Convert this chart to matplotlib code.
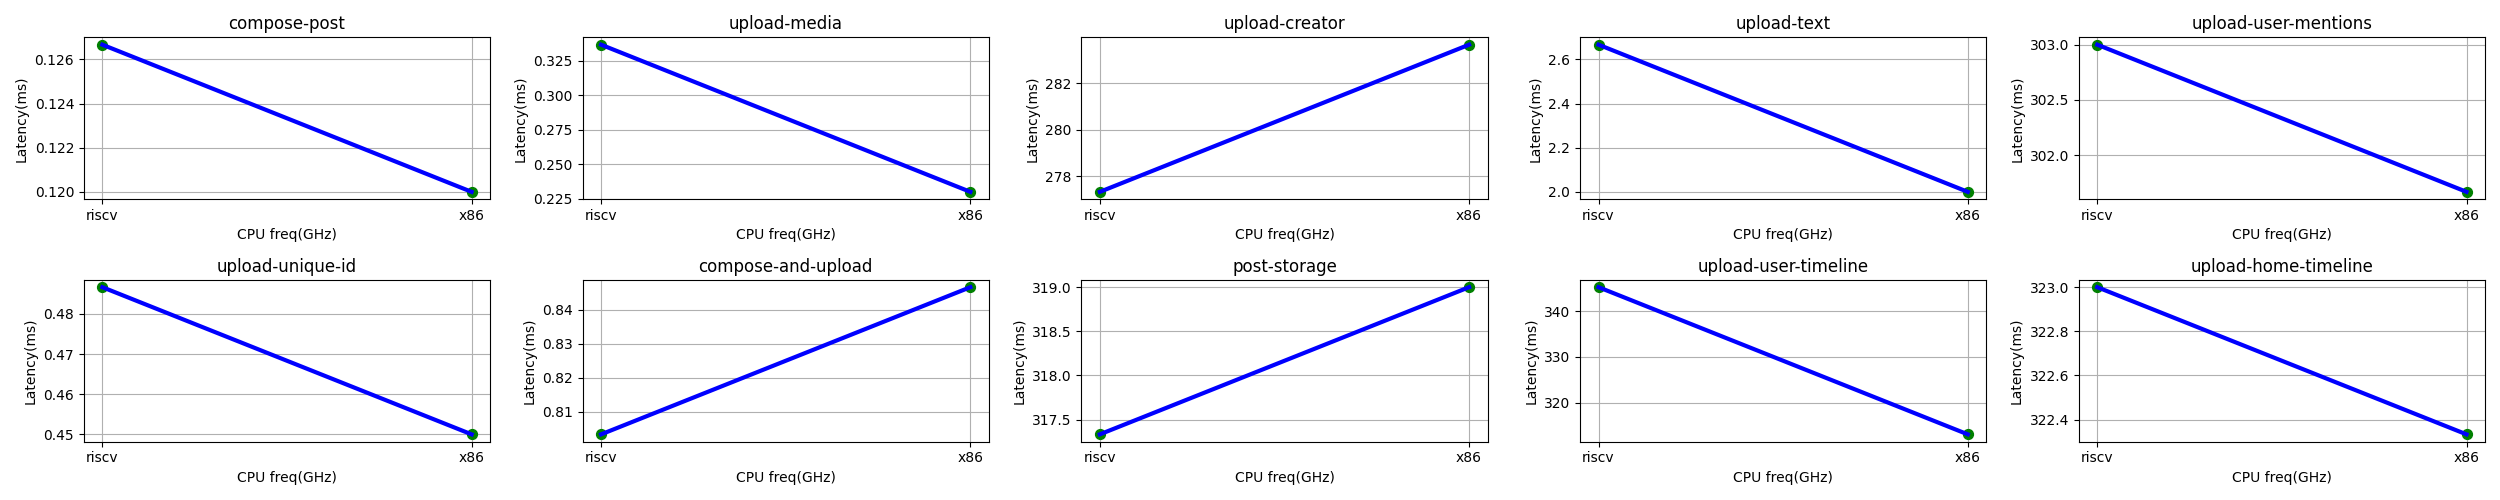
import matplotlib
matplotlib.use("Agg")
import matplotlib.pyplot as plt

archs = ["riscv", "x86"]
titles = ["compose-post", "upload-media", "upload-creator", "upload-text",
          "upload-user-mentions", "upload-unique-id", "compose-and-upload",
          "post-storage", "upload-user-timeline", "upload-home-timeline"]
compose_post = [0.12667, 0.12]
upload_media = [0.33667, 0.23]
upload_creator = [277.333, 283.667]
upload_text = [2.6667, 2.0]
upload_user_mentions = [303.0, 301.667]
upload_unique_id = [0.48667, 0.45]
compose_and_upload = [0.80333, 0.84667]
post_storage = [317.333, 319.0]
upload_user_timeline = [345.333, 313.0]
upload_home_timeline = [323.0, 322.333]

series = [compose_post, upload_media, upload_creator, upload_text,
          upload_user_mentions, upload_unique_id, compose_and_upload,
          post_storage, upload_user_timeline, upload_home_timeline]

fig, axes = plt.subplots(2, 5, figsize=(25, 5), dpi=100)
for ax, title, vals in zip(axes.flat, titles, series):
    ax.scatter(archs, vals, color="green", s=50, zorder=2)
    ax.plot(archs, vals, color="blue", linewidth=3, zorder=3)
    ax.set_title(title, fontsize=12)
    ax.set_xlabel("CPU freq(GHz)")
    ax.set_ylabel("Latency(ms)")
    ax.grid(True)
fig.tight_layout()
fig.savefig("out.png")
